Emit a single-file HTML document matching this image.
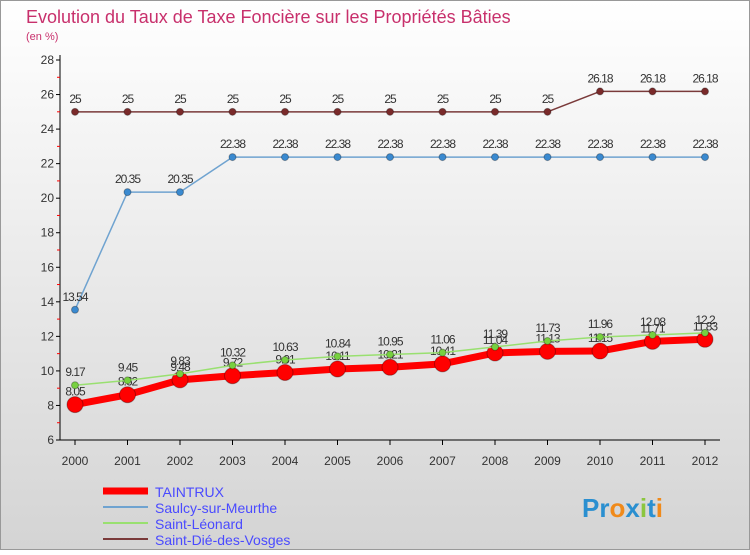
<!DOCTYPE html>
<html><head><meta charset="utf-8"><style>
body{margin:0;width:750px;height:550px;overflow:hidden;font-family:"Liberation Sans",sans-serif}
</style></head><body>
<svg id="c" width="750" height="550" xmlns="http://www.w3.org/2000/svg">
<defs><linearGradient id="bg" x1="0" y1="0" x2="0" y2="1"><stop offset="0" stop-color="#ffffff"/><stop offset="1" stop-color="#d4d4d4"/></linearGradient></defs>
<rect x="0.5" y="0.5" width="749" height="549" fill="url(#bg)" stroke="#999"/>
<text x="26" y="23" font-size="18" fill="#c8306c">Evolution du Taux de Taxe Foncière sur les Propriétés Bâties</text>
<text x="26" y="40" font-size="11" fill="#c8306c">(en %)</text>
<g id="axes"></g><g id="series"></g>
<g>
<line x1="103" y1="491" x2="148" y2="491" stroke="#f00" stroke-width="7"/>
<text x="155" y="497" font-size="14" fill="#4a4aff">TAINTRUX</text>
<line x1="103" y1="507" x2="148" y2="507" stroke="#6fa3d0" stroke-width="2"/>
<text x="155" y="513" font-size="14" fill="#4a4aff">Saulcy-sur-Meurthe</text>
<line x1="103" y1="523" x2="148" y2="523" stroke="#99e070" stroke-width="2"/>
<text x="155" y="529" font-size="14" fill="#4a4aff">Saint-Léonard</text>
<line x1="103" y1="539" x2="148" y2="539" stroke="#7a3a3a" stroke-width="2"/>
<text x="155" y="545" font-size="14" fill="#4a4aff">Saint-Dié-des-Vosges</text>
</g>
<text x="582" y="517" font-size="26" font-weight="bold"><tspan fill="#2a8fd0">Pr</tspan><tspan fill="#f08a1a">o</tspan><tspan fill="#2a8fd0">x</tspan><tspan fill="#8cc63f">i</tspan><tspan fill="#2a8fd0">t</tspan><tspan fill="#f08a1a">i</tspan></text>
</svg>
<script>
const years=["2000","2001","2002","2003","2004","2005","2006","2007","2008","2009","2010","2011","2012"];
const yTicks=[6,8,10,12,14,16,18,20,22,24,26,28];
const taintrux=[8.05,8.62,9.48,9.72,9.91,10.11,10.21,10.41,11.04,11.13,11.15,11.71,11.83];
const saulcy=[13.54,20.35,20.35,22.38,22.38,22.38,22.38,22.38,22.38,22.38,22.38,22.38,22.38];
const leonard=[9.17,9.45,9.83,10.32,10.63,10.84,10.95,11.06,11.39,11.73,11.96,12.08,12.2];
const die=[25,25,25,25,25,25,25,25,25,25,26.18,26.18,26.18];
const NS="http://www.w3.org/2000/svg";
const X=i=>75+i*52.5, Y=v=>440-(v-6)*380/22;
function mk(t,a,p){const e=document.createElementNS(NS,t);for(const k in a)e.setAttribute(k,a[k]);p.appendChild(e);return e;}
const ax=document.getElementById('axes'), sg=document.getElementById('series');
let e=mk('line',{x1:60,y1:55,x2:60,y2:440,stroke:'#000'},ax);

e=mk('line',{x1:60,y1:440,x2:720,y2:440,stroke:'#000'},ax);

yTicks.forEach(v=>{
  mk('line',{x1:56,y1:Y(v),x2:60,y2:Y(v),stroke:'#000'},ax);
  if(v<28)mk('line',{x1:57,y1:Y(v+1),x2:60,y2:Y(v+1),stroke:'#f00'},ax);
  const t=mk('text',{x:54,y:Y(v)+4,'font-size':12,fill:'#333','text-anchor':'end'},ax);t.textContent=v;
  
});
years.forEach((y,i)=>{
  mk('line',{x1:X(i),y1:440,x2:X(i),y2:445,stroke:'#000'},ax);
  const t=mk('text',{x:X(i),y:465,'font-size':12,fill:'#333','text-anchor':'middle'},ax);t.textContent=y;
  
});
function series(d,name,col,w,r,dot){
  const g=mk('g',{},sg);
  mk('polyline',{points:d.map((v,i)=>X(i)+','+Y(v)).join(' '),fill:'none',stroke:col,'stroke-width':w,'stroke-linejoin':'round'},g);
  d.forEach((v,i)=>{
    const c=mk('circle',{cx:X(i),cy:Y(v),r:r,fill:dot,stroke:'rgba(0,0,0,0.3)'},g);
    
    const t=mk('text',{x:X(i),y:Y(v)-9,'font-size':12,fill:'#333','text-anchor':'middle','letter-spacing':'-1'},g);
    t.textContent=String(v);
    
  });
}
series(die,'saint-die','#7a3a3a',1.5,3.5,'#7a2a2a');
series(saulcy,'saulcy','#6fa3d0',1.5,3.5,'#3a8ad0');
series(taintrux,'taintrux','#f00',7,8,'#f00');
series(leonard,'saint-leonard','#99e070',1.5,3.5,'#77d040');
</script>
</body></html>
